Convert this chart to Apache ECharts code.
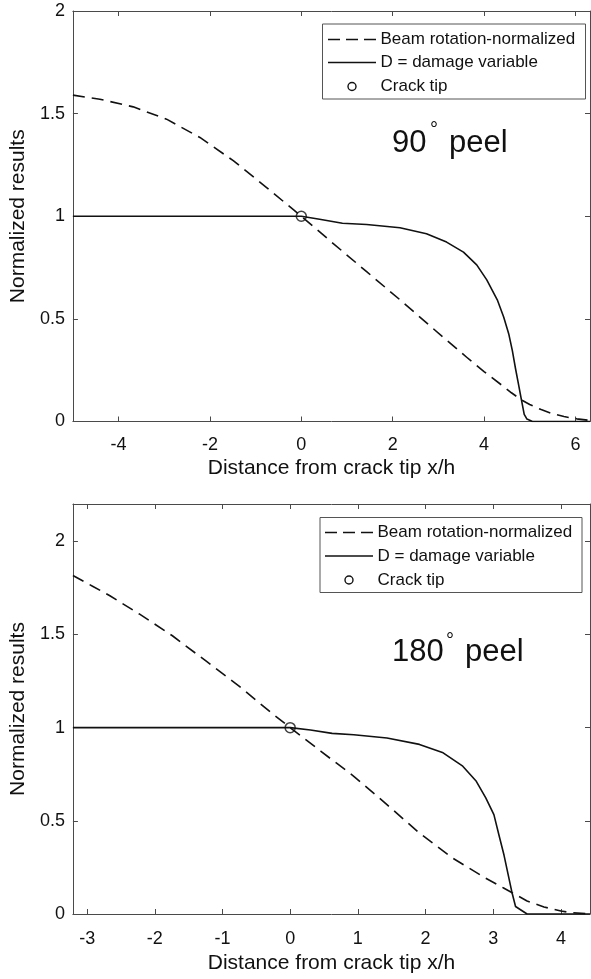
<!DOCTYPE html>
<html>
<head>
<meta charset="utf-8">
<style>
  html, body { margin: 0; padding: 0; background: #fff; }
  #chart { width: 591px; height: 979px; }
</style>
<script src="https://cdn.jsdelivr.net/npm/echarts@6/dist/echarts.min.js"></script>
</head>
<body>
<div id="chart"></div>
<script>
// 90° peel: beam rotation (normalized) and damage variable along x/h
const beam90X = [-5, -4.41, -3.68, -2.95, -2.22, -1.49, -0.76, -0.18, 0, 0.7, 1.43, 2.16, 2.89, 3.62, 4.0, 4.4, 4.6, 4.82, 5.0, 5.25, 5.5, 5.75, 6.03, 6.32];
const beam90Y = [1.59, 1.57, 1.533, 1.473, 1.384, 1.271, 1.14, 1.033, 1.0, 0.867, 0.73, 0.593, 0.452, 0.313, 0.243, 0.175, 0.14, 0.105, 0.083, 0.058, 0.038, 0.024, 0.013, 0.005];
const dmg90X = [-5, 0, 0.4, 0.9, 1.43, 2.16, 2.74, 3.18, 3.55, 3.84, 4.06, 4.29, 4.43, 4.54, 4.62, 4.69, 4.75, 4.82, 4.88, 4.94, 5.06, 6.32];
const dmg90Y = [1, 1, 0.985, 0.966, 0.96, 0.944, 0.915, 0.874, 0.825, 0.763, 0.69, 0.593, 0.509, 0.428, 0.345, 0.257, 0.187, 0.104, 0.035, 0.012, 0, 0];

// 180° peel
const beam180X = [-3.21, -2.92, -2.67, -2.23, -1.74, -1.25, -0.76, -0.28, 0, 0.45, 0.94, 1.43, 1.91, 2.40, 2.89, 3.16, 3.26, 3.5, 3.75, 4.0, 4.14, 4.43];
const beam180Y = [1.816, 1.759, 1.709, 1.61, 1.493, 1.359, 1.224, 1.08, 1.0, 0.874, 0.739, 0.587, 0.434, 0.3, 0.192, 0.138, 0.118, 0.07, 0.038, 0.016, 0.008, 0];
const dmg180X = [-3.21, 0, 0.30, 0.62, 0.94, 1.43, 1.91, 2.26, 2.55, 2.75, 2.89, 3.01, 3.09, 3.16, 3.28, 3.33, 3.50, 4.43];
const dmg180Y = [1, 1, 0.987, 0.969, 0.962, 0.944, 0.91, 0.865, 0.793, 0.712, 0.623, 0.533, 0.416, 0.315, 0.111, 0.04, 0, 0];

// Crack tip location
const crackTip = [0, 1];

// Axis ranges and tick steps
const xRange90 = [-5, 6.32], xStep90 = 2;
const xRange180 = [-3.21, 4.43], xStep180 = 1;
const yRange90 = [0, 2], yRange180 = [0, 2.2], yStep = 0.5;

const legendNames = ['Beam rotation-normalized', 'D = damage variable', 'Crack tip'];
const xTitle = 'Distance from crack tip x/h';
const yTitle = 'Normalized results';
const panelTitles = [['90', 'peel'], ['180', 'peel']];

const FONT = "'Liberation Sans', Arial, sans-serif";
const INK = '#111';
const AXIS = '#4a4a4a';

const pairs = (xs, ys) => xs.map((x, i) => [x, ys[i]]);

function mainX(grid, range, step, labelMargin, gap) {
  return {
    type: 'value', gridIndex: grid, position: 'bottom',
    min: range[0], max: range[1], minInterval: step, maxInterval: step,
    axisLine: { show: true, onZero: false, lineStyle: { color: AXIS, width: 1 } },
    axisTick: { show: true, inside: true, length: 5, lineStyle: { color: AXIS } },
    axisLabel: { show: true, fontSize: 18, fontFamily: FONT, color: INK, margin: labelMargin,
                 showMinLabel: false, showMaxLabel: false },
    splitLine: { show: false },
    name: xTitle, nameLocation: 'middle', nameGap: gap,
    nameTextStyle: { fontSize: 21, fontFamily: FONT, color: INK }
  };
}
function mirrorX(grid, range, step) {
  return {
    type: 'value', gridIndex: grid, position: 'top',
    min: range[0], max: range[1], minInterval: step, maxInterval: step,
    axisLine: { show: true, onZero: false, lineStyle: { color: AXIS, width: 1 } },
    axisTick: { show: true, inside: true, length: 5, lineStyle: { color: AXIS } },
    axisLabel: { show: false }, splitLine: { show: false }
  };
}
function mainY(grid, range, showMax, gap) {
  return {
    type: 'value', gridIndex: grid, position: 'left',
    min: range[0], max: range[1], minInterval: yStep, maxInterval: yStep,
    axisLine: { show: true, onZero: false, lineStyle: { color: AXIS, width: 1 } },
    axisTick: { show: true, inside: true, length: 5, lineStyle: { color: AXIS } },
    axisLabel: { show: true, fontSize: 18, fontFamily: FONT, color: INK, margin: 8,
                 showMinLabel: true, showMaxLabel: showMax },
    splitLine: { show: false },
    name: yTitle, nameLocation: 'middle', nameGap: gap,
    nameTextStyle: { fontSize: 21, fontFamily: FONT, color: INK }
  };
}
function mirrorY(grid, range) {
  return {
    type: 'value', gridIndex: grid, position: 'right',
    min: range[0], max: range[1], minInterval: yStep, maxInterval: yStep,
    axisLine: { show: true, onZero: false, lineStyle: { color: AXIS, width: 1 } },
    axisTick: { show: true, inside: true, length: 5, lineStyle: { color: AXIS } },
    axisLabel: { show: false }, splitLine: { show: false }
  };
}

function curves(xi, yi, beam, dmg) {
  return [
    { name: legendNames[0], type: 'line', xAxisIndex: xi, yAxisIndex: yi, data: beam,
      symbol: 'none', smooth: false,
      lineStyle: { color: INK, width: 1.6, type: [12, 7], join: 'round' }, z: 3 },
    { name: legendNames[1], type: 'line', xAxisIndex: xi, yAxisIndex: yi, data: dmg,
      symbol: 'none', smooth: false,
      lineStyle: { color: INK, width: 1.6, join: 'round' }, z: 3 },
    { name: legendNames[2], type: 'scatter', xAxisIndex: xi, yAxisIndex: yi, data: [crackTip],
      symbol: 'circle', symbolSize: 10,
      itemStyle: { color: 'rgba(0,0,0,0)', borderColor: INK, borderWidth: 1.5 }, z: 4 }
  ];
}

// Boxed legend with line / marker samples
function legendBox(box, rowsY, sampleX0, sampleX1, textX) {
  const els = [];
  els.push({ type: 'rect', shape: { x: box[0], y: box[1], width: box[2], height: box[3] },
             style: { fill: '#fff', stroke: '#555', lineWidth: 1 }, z: 10 });
  els.push({ type: 'line', shape: { x1: sampleX0, y1: rowsY[0], x2: sampleX1, y2: rowsY[0] },
             style: { stroke: INK, lineWidth: 1.6, lineDash: [12, 6] }, z: 11 });
  els.push({ type: 'line', shape: { x1: sampleX0, y1: rowsY[1], x2: sampleX1, y2: rowsY[1] },
             style: { stroke: INK, lineWidth: 1.6 }, z: 11 });
  els.push({ type: 'circle', shape: { cx: (sampleX0 + sampleX1) / 2, cy: rowsY[2], r: 4 },
             style: { fill: 'none', stroke: INK, lineWidth: 1.4 }, z: 11 });
  legendNames.forEach((n, i) => {
    els.push({ type: 'text', x: textX, y: rowsY[i], z: 11,
               style: { text: n, font: '17px ' + FONT, fill: INK, verticalAlign: 'middle' } });
  });
  return els;
}

// Panel caption "NN° peel"; y is the top of the digits' line box
function panelTitle(t, x, top, degX, degY, peelX) {
  return [
    { type: 'text', x: x, y: top, z: 11,
      style: { text: t[0], font: '31px ' + FONT, fill: INK, verticalAlign: 'top' } },
    { type: 'text', x: degX, y: degY, z: 11,
      style: { text: '°', font: '20px ' + FONT, fill: INK, align: 'center', verticalAlign: 'middle' } },
    { type: 'text', x: peelX, y: top, z: 11,
      style: { text: t[1], font: '31px ' + FONT, fill: INK, verticalAlign: 'top' } }
  ];
}

const chart = echarts.init(document.getElementById('chart'), null, { renderer: 'canvas' });
chart.setOption({
  animation: false,
  backgroundColor: '#fff',
  grid: [
    { left: 72, top: 11, right: 1, height: 410.5 },
    { left: 69, top: 504, right: 1, height: 410 }
  ],
  xAxis: [
    mainX(0, xRange90, xStep90, 15, 36), mirrorX(0, xRange90, xStep90),
    mainX(1, xRange180, xStep180, 16, 39), mirrorX(1, xRange180, xStep180)
  ],
  yAxis: [
    mainY(0, yRange90, true, 36), mirrorY(0, yRange90),
    mainY(1, yRange180, false, 39), mirrorY(1, yRange180)
  ],
  series: [
    ...curves(0, 0, pairs(beam90X, beam90Y), pairs(dmg90X, dmg90Y)),
    ...curves(2, 2, pairs(beam180X, beam180Y), pairs(dmg180X, dmg180Y))
  ],
  graphic: [
    ...legendBox([322.5, 24, 263, 75], [39.5, 62.5, 86.5], 328, 376, 380.5),
    ...panelTitle(panelTitles[0], 392, 128, 434, 130, 449),
    ...legendBox([320, 517.5, 262, 75], [532.5, 556, 580], 325, 373, 377.5),
    ...panelTitle(panelTitles[1], 392, 637, 450, 641, 465)
  ]
});
</script>
</body>
</html>
